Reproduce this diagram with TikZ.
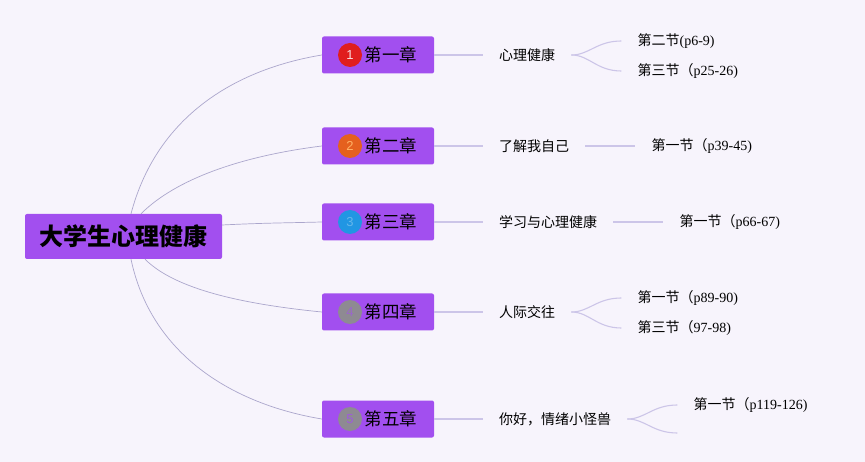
\documentclass[tikz,border=0pt]{standalone}
\usepackage{fontspec}
\setmainfont{Liberation Serif}
\newfontfamily\cjk{Noto Sans CJK SC}
\newfontfamily\digits{Liberation Sans}
\usetikzlibrary{positioning}
\definecolor{bgc}{HTML}{F7F4FC}
\definecolor{boxc}{HTML}{A24FEF}
\definecolor{trunkc}{HTML}{ABA6CC}
\definecolor{twigc}{HTML}{CCC5E8}
\definecolor{redc}{HTML}{E01E1E}
\definecolor{orangec}{HTML}{E5601E}
\definecolor{bluec}{HTML}{2196E3}
\definecolor{grayc}{HTML}{8E8A92}

\begin{document}
\begin{tikzpicture}[x=1pt, y=-1pt,
  root/.style={fill=boxc, rounded corners=2pt, minimum width=197pt, minimum height=45pt, font=\cjk\bfseries\fontsize{24}{28}\selectfont},
  chap/.style={fill=boxc, rounded corners=2pt, minimum width=112pt, minimum height=37pt, font=\cjk\fontsize{17.5}{20}\selectfont},
  badge/.style={circle, minimum size=24pt, inner sep=0pt, font=\digits\fontsize{13}{14}\selectfont},
  topic/.style={anchor=west, inner xsep=16pt, font=\cjk\fontsize{14}{16}\selectfont},
  sect/.style={anchor=west, inner xsep=16pt, font=\fontsize{14}{16}\selectfont},
  trunk/.style={draw=trunkc, line width=0.7pt},
  twig/.style={draw=twigc, line width=1.1pt}]
\fill[bgc] (0,0) rectangle (865,462);
\useasboundingbox (0,0) rectangle (865,462);

\node[root] (root) at (123.5,236.5) {大学生心理健康};

\node[chap] (c1) at (378,55) {\hspace{26pt}第一章};
\node[chap] (c2) at (378,146) {\hspace{26pt}第二章};
\node[chap] (c3) at (378,222) {\hspace{26pt}第三章};
\node[chap] (c4) at (378,312) {\hspace{26pt}第四章};
\node[chap] (c5) at (378,419) {\hspace{26pt}第五章};

\node[badge, fill=redc, text=white!85!redc] (b1) at (350,55) {1};
\node[badge, fill=orangec, text=orange!60!white] (b2) at (350,146) {2};
\node[badge, fill=bluec, text=bluec!70!white] (b3) at (350,222) {3};
\node[badge, fill=grayc, text=boxc!60!grayc] (b4) at (350,312) {4};
\node[badge, fill=grayc, text=boxc!80!grayc] (b5) at (350,419) {5};

\node[topic] (t1) at (483,55) {心理健康};
\node[topic] (t2) at (483,146) {了解我自己};
\node[topic] (t3) at (483,222) {学习与心理健康};
\node[topic] (t4) at (483,312) {人际交往};
\node[topic] (t5) at (483,419) {你好，情绪小怪兽};

\node[sect] (s11) at ([xshift=50pt,yshift=14pt]t1.east) {{\cjk 第二节}(p6-9)};
\node[sect] (s12) at ([xshift=50pt,yshift=-16pt]t1.east) {{\cjk 第三节（}p25-26)};
\node[sect, right=50pt of t2] (s21) {{\cjk 第一节（}p39-45)};
\node[sect, right=50pt of t3] (s31) {{\cjk 第一节（}p66-67)};
\node[sect] (s41) at ([xshift=50pt,yshift=14pt]t4.east) {{\cjk 第一节（}p89-90)};
\node[sect] (s42) at ([xshift=50pt,yshift=-16pt]t4.east) {{\cjk 第三节（}97-98)};
\node[sect] (s51) at ([xshift=50pt,yshift=14pt]t5.east) {{\cjk 第一节（}p119-126)};
\coordinate (s52) at ([xshift=50pt,yshift=-14pt]t5.east);

\draw[trunk] ([xshift=7.5pt]root.north) .. controls +(25,-95) and +(-90,15) .. (c1.west);
\draw[trunk] ([xshift=17.5pt]root.north) .. controls +(35,-35) and +(-80,10) .. (c2.west);
\draw[trunk] ([yshift=11.5pt]root.east) .. controls +(40,-2) and +(-40,1) .. (c3.west);
\draw[trunk] ([xshift=21.5pt]root.south) .. controls +(30,30) and +(-80,-8) .. (c4.west);
\draw[trunk] ([xshift=7.5pt]root.south) .. controls +(20,95) and +(-90,-15) .. (c5.west);

\draw[twig] (c1) -- (t1);
\draw[twig] (c2) -- (t2);
\draw[twig] (c3) -- (t3);
\draw[twig] (c4) -- (t4);
\draw[twig] (c5) -- (t5);

\draw[twig] (t1.east) .. controls +(18,0) and +(-25,0) .. (s11.west);
\draw[twig] (t1.east) .. controls +(18,0) and +(-25,0) .. (s12.west);
\draw[twig] (t2) -- (s21);
\draw[twig] (t3) -- (s31);
\draw[twig] (t4.east) .. controls +(18,0) and +(-25,0) .. (s41.west);
\draw[twig] (t4.east) .. controls +(18,0) and +(-25,0) .. (s42.west);
\draw[twig] (t5.east) .. controls +(18,0) and +(-25,0) .. (s51.west);
\draw[twig] (t5.east) .. controls +(18,0) and +(-25,0) .. (s52);
\end{tikzpicture}
\end{document}
